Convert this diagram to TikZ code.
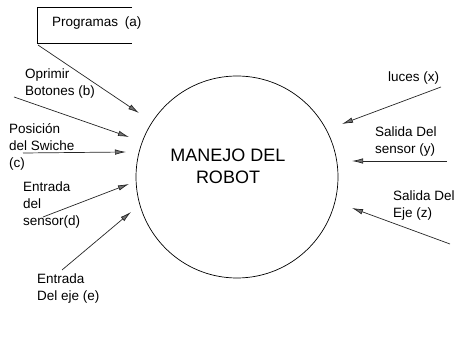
\documentclass[tikz,border=0pt]{standalone}
\usepackage{fontspec}
\setmainfont{Liberation Sans}
\usetikzlibrary{arrows.meta}
\begin{document}
\begin{tikzpicture}[x=1pt,y=-1pt,
    flecha/.style={draw=black!85, line width=0.7pt, -{Latex[length=11pt,width=5.5pt,fill=black!55]}},
    etiqueta/.style={anchor=west, align=left, inner sep=0pt, font=\fontsize{13.5}{17}\selectfont}]
    \useasboundingbox (0,0) rectangle (460,352);
    % proceso central
    \node [draw, circle, minimum size=202pt, line width=0.7pt] (M) at (237,177) {};
    \node [font=\fontsize{18}{22}\selectfont, align=center, inner sep=0pt] (T) at (228,166) {MANEJO DEL\\ROBOT};

    % almacen de programas (caja abierta)
    \coordinate (P1) at (132,7);
    \coordinate (P2) at (37,7);
    \coordinate (P3) at (37,43);
    \coordinate (P4) at (132,43);
    \draw [line width=0.7pt] (P1) -- (P2) -- (P3) -- (P4);
    \node [etiqueta] (La) at (52,23) {Programas\enspace(a)};

    % entradas
    \node [etiqueta] (Lb) at (25,84) {Oprimir\\Botones (b)};
    \node [etiqueta] (Lc) at (9,147) {Posición\\del Swiche\\(c)};
    \node [etiqueta] (Ld) at (23,205) {Entrada\\del\\sensor(d)};
    \node [etiqueta] (Le) at (37,289) {Entrada\\Del eje (e)};
    \coordinate (a0) at (38,45);   \coordinate (a1) at (139,113);
    \coordinate (b0) at (14,97);   \coordinate (b1) at (129,137);
    \coordinate (c0) at (23,153);  \coordinate (c1) at (126,152);
    \coordinate (d0) at (43,217);  \coordinate (d1) at (129,184);
    \coordinate (e0) at (62,270);  \coordinate (e1) at (131,212);
    \draw [flecha] (a0) -- (a1);
    \draw [flecha] (b0) -- (b1);
    \draw [flecha] (c0) -- (c1);
    \draw [flecha] (d0) -- (d1);
    \draw [flecha] (e0) -- (e1);

    % salidas
    \node [etiqueta] (Lx) at (388,78) {luces (x)};
    \node [etiqueta] (Ly) at (375,142) {Salida Del\\sensor (y)};
    \node [etiqueta] (Lz) at (393,206) {Salida Del\\Eje (z)};
    \coordinate (x0) at (441,87);  \coordinate (x1) at (342,124);
    \coordinate (y0) at (447,161); \coordinate (y1) at (352,161);
    \coordinate (z0) at (450,244); \coordinate (z1) at (352,208);
    \draw [flecha] (x0) -- (x1);
    \draw [flecha] (y0) -- (y1);
    \draw [flecha] (z0) -- (z1);
\end{tikzpicture}
\end{document}
